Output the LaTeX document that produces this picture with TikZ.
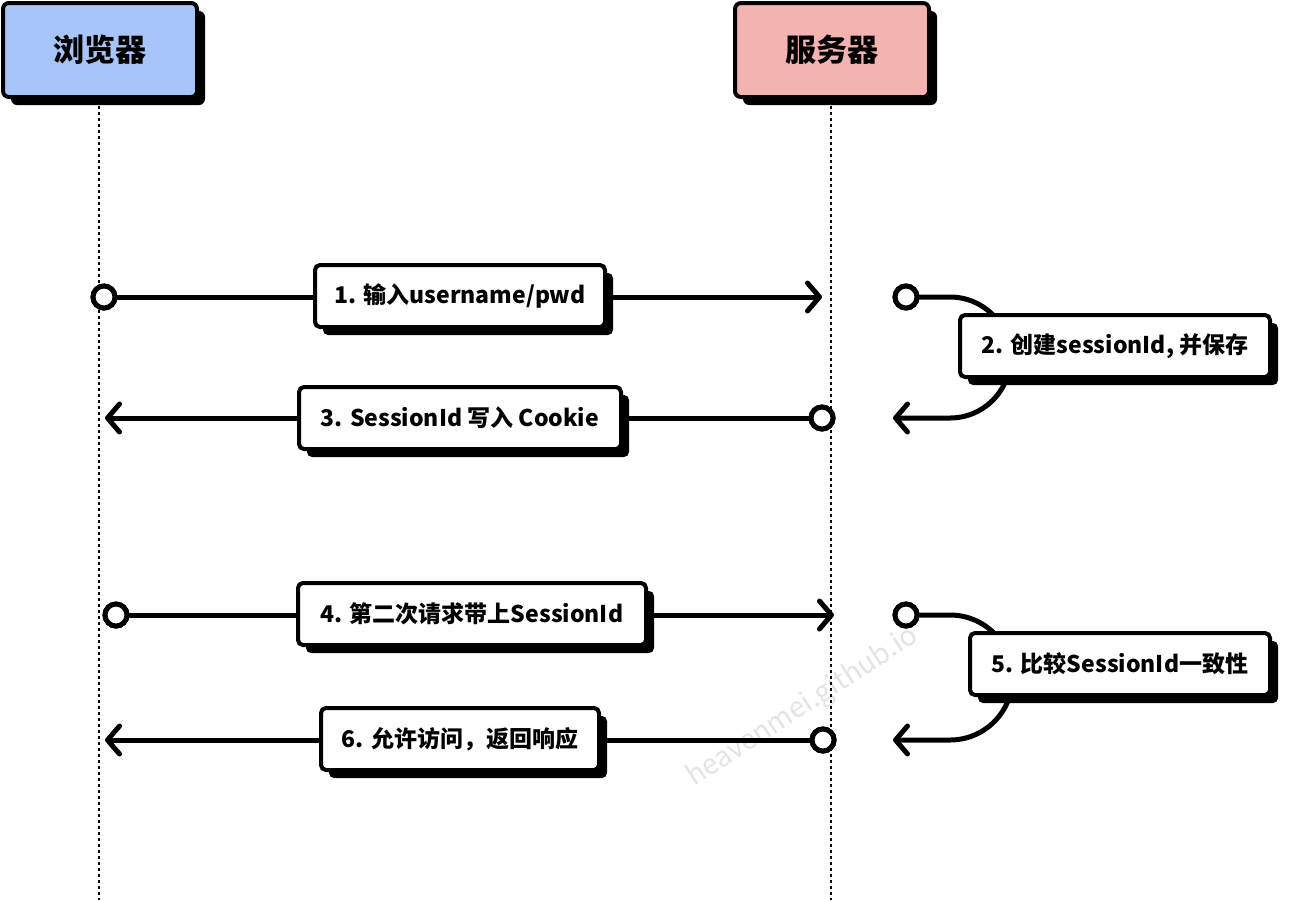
\documentclass[tikz,border=0pt]{standalone}
\usepackage{fontspec}
\setmainfont{Noto Sans CJK SC}[BoldFont={Noto Sans CJK SC Black}]
\usetikzlibrary{arrows.meta,shadows}
\definecolor{browserblue}{HTML}{A8C5F9}
\definecolor{serverpink}{HTML}{F2B3B1}
\definecolor{markgray}{HTML}{E4E4E4}
\begin{document}
\begin{tikzpicture}[x=1pt,y=-1pt,
  actor/.style={draw=black,line width=4pt,rounded corners=6pt,
    minimum width=194pt,minimum height=94pt,
    font=\fontsize{31}{36}\selectfont\bfseries,
    drop shadow={shadow xshift=8pt,shadow yshift=-8pt,fill=black,opacity=1}},
  msglabel/.style={draw=black,fill=white,line width=4pt,rounded corners=5pt,
    minimum height=62pt,inner sep=0pt,
    font=\fontsize{23}{27}\selectfont\bfseries,
    drop shadow={shadow xshift=8pt,shadow yshift=-8pt,fill=black,opacity=1}},
  lifeline/.style={line width=1.6pt,dash pattern=on 3pt off 3pt},
  msg/.style={line width=5pt,line cap=round,
    -{Straight Barb[length=12pt,width=28pt,line cap=round,line join=round]}},
  endpoint/.style={circle,draw=black,fill=white,line width=5pt,
    minimum size=22pt,inner sep=0pt}]
\useasboundingbox (0,0) rectangle (1308,900);

% watermark, under everything else
\node[text=markgray,font=\fontsize{28}{32}\selectfont,rotate=33] (mark) at (803,707) {heavenmei.github.io};

% actors
\node[actor,fill=browserblue] (browser) at (100,50) {浏览器};
\node[actor,fill=serverpink] (server) at (832,50) {服务器};

% lifelines
\coordinate (bEnd) at (99,900);
\coordinate (sEnd) at (831,900);
\draw[lifeline] (99,100) -- (bEnd);
\draw[lifeline] (831,100) -- (sEnd);

% endpoints of the messages
\node[endpoint] (m1s) at (104,297) {};
\coordinate (m1e) at (822,297);
\node[endpoint] (m2s) at (906,297) {};
\coordinate (m2a) at (950,297);
\coordinate (m2e) at (893,418);
\node[endpoint] (m3s) at (822,418) {};
\coordinate (m3e) at (105,418);
\node[endpoint] (m4s) at (116,615) {};
\coordinate (m4e) at (834,615);
\node[endpoint] (m5s) at (906,615) {};
\coordinate (m5a) at (950,615);
\coordinate (m5e) at (893,740);
\node[endpoint] (m6s) at (823,740) {};
\coordinate (m6e) at (105,740);

% message lines
\draw[msg] (m1s) -- (m1e);
\draw[msg] (m2s) -- (m2a) arc[start angle=-90,end angle=90,radius=60.5] -- (m2e);
\draw[msg] (m3s) -- (m3e);
\draw[msg] (m4s) -- (m4e);
\draw[msg] (m5s) -- (m5a) arc[start angle=-90,end angle=90,radius=62.5] -- (m5e);
\draw[msg] (m6s) -- (m6e);

% endpoint circles on top of the lines
\foreach \n in {m1s,m2s,m3s,m4s,m5s,m6s}
  \node[endpoint] at (\n) {};

% message labels
\node[msglabel,minimum width=290pt] (l1) at (460,296) {1. 输入username/pwd};
\node[msglabel,minimum width=310pt] (l2) at (1115,346) {2. 创建sessionId, 并保存};
\node[msglabel,minimum width=322pt] (l3) at (460,418) {3. SessionId 写入 Cookie};
\node[msglabel,minimum width=348pt] (l4) at (472,614) {4. 第二次请求带上SessionId};
\node[msglabel,minimum width=300pt] (l5) at (1120,664) {5. 比较SessionId一致性};
\node[msglabel,minimum width=278pt] (l6) at (460,739) {6. 允许访问，返回响应};
\end{tikzpicture}
\end{document}
